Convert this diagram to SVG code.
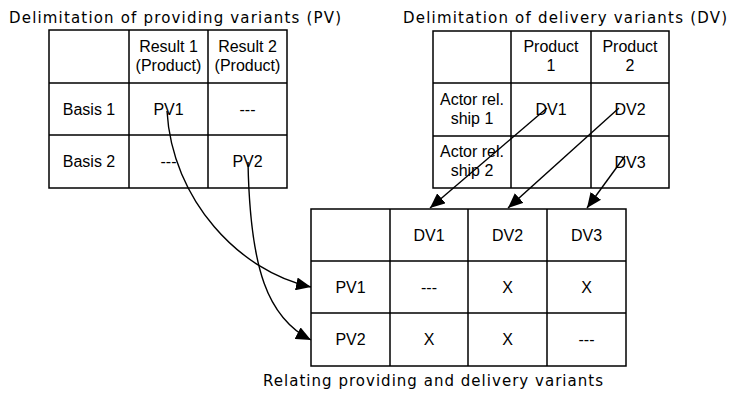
<svg xmlns="http://www.w3.org/2000/svg" width="730" height="394" viewBox="0 0 730 394">
<defs>
<style>
.grid{fill:none;stroke:#000;stroke-width:1.5}
.t{font-family:"Liberation Sans",Arial,sans-serif;font-size:16px;text-anchor:middle;fill:#000}
.title{font-family:"DejaVu Sans","Liberation Sans",sans-serif;font-size:15px;fill:#000}
.con{fill:none;stroke:#000;stroke-width:1.4}
</style>
<marker id="ah" viewBox="0 0 15 13" refX="15" refY="6.5" markerWidth="15" markerHeight="13" markerUnits="userSpaceOnUse" orient="auto">
<path d="M0,0 L15,6.5 L0,13 z" fill="#000"/>
</marker>
</defs>
<rect width="730" height="394" fill="#fff"/>

<g id="pv-table">
<text class="title" x="9" y="23" textLength="332" lengthAdjust="spacing">Delimitation of providing variants (PV)</text>
<rect class="grid" x="49" y="30" width="238" height="158"/>
<path class="grid" d="M129,30V188M208,30V188M49,83H287M49,135H287"/>
<text class="t" x="168.5" y="52">Result 1</text>
<text class="t" x="168.5" y="71">(Product)</text>
<text class="t" x="247.5" y="52">Result 2</text>
<text class="t" x="247.5" y="71">(Product)</text>
<text class="t" x="89" y="114.5">Basis 1</text>
<text class="t" x="168.5" y="114.5">PV1</text>
<text class="t" x="247.5" y="114.5">---</text>
<text class="t" x="89" y="167">Basis 2</text>
<text class="t" x="168.5" y="167">---</text>
<text class="t" x="247.5" y="167">PV2</text>
</g>

<g id="dv-table">
<text class="title" x="403" y="23" textLength="324" lengthAdjust="spacing">Delimitation of delivery variants (DV)</text>
<rect class="grid" x="433" y="31" width="236" height="157"/>
<path class="grid" d="M511,31V188M591,31V188M433,83H669M433,136H669"/>
<text class="t" x="551" y="52">Product</text>
<text class="t" x="551" y="71">1</text>
<text class="t" x="630" y="52">Product</text>
<text class="t" x="630" y="71">2</text>
<text class="t" x="472" y="105">Actor rel.</text>
<text class="t" x="472" y="124">ship 1</text>
<text class="t" x="551" y="115">DV1</text>
<text class="t" x="630" y="115">DV2</text>
<text class="t" x="472" y="157">Actor rel.</text>
<text class="t" x="472" y="176">ship 2</text>
<text class="t" x="630" y="168">DV3</text>
</g>

<g id="relation-table">
<rect class="grid" x="311" y="209" width="315" height="157"/>
<path class="grid" d="M390,209V366M468,209V366M547,209V366M311,261H626M311,313H626"/>
<text class="t" x="429" y="240.5">DV1</text>
<text class="t" x="507.5" y="240.5">DV2</text>
<text class="t" x="586.5" y="240.5">DV3</text>
<text class="t" x="350.5" y="292.5">PV1</text>
<text class="t" x="429" y="292.5">---</text>
<text class="t" x="507.5" y="292.5">X</text>
<text class="t" x="586.5" y="292.5">X</text>
<text class="t" x="350.5" y="344.5">PV2</text>
<text class="t" x="429" y="344.5">X</text>
<text class="t" x="507.5" y="344.5">X</text>
<text class="t" x="586.5" y="344.5">---</text>
<text class="title" x="263" y="386" textLength="340" lengthAdjust="spacing">Relating providing and delivery variants</text>
</g>

<g id="connectors">
<path class="con" d="M167,111 C172,200 240,272 311,287" marker-end="url(#ah)"/>
<path d="M257,270.3 L268,277" stroke="#fff" stroke-width="3.5" fill="none"/>
<path class="con" d="M248,162 C250,270 268,318 311,340" marker-end="url(#ah)"/>
<path class="con" d="M547,108 L430,208" marker-end="url(#ah)"/>
<path class="con" d="M619,108 L508,208" marker-end="url(#ah)"/>
<path class="con" d="M625,156 L587,208" marker-end="url(#ah)"/>
</g>
</svg>
